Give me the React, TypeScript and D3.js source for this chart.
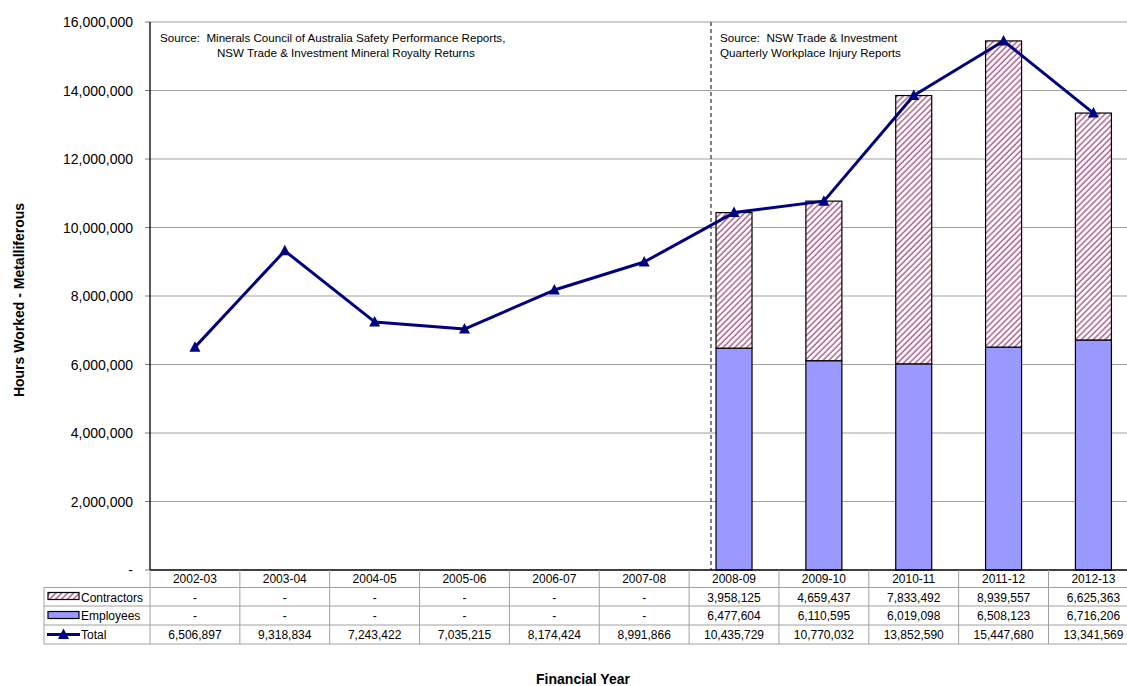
import React from "react";
import * as d3 from "d3";

const categories = ["2002-03","2003-04","2004-05","2005-06","2006-07","2007-08","2008-09","2009-10","2010-11","2011-12","2012-13"];
const contractors: (number | null)[] = [null,null,null,null,null,null,3958125,4659437,7833492,8939557,6625363];
const employees: (number | null)[] = [null,null,null,null,null,null,6477604,6110595,6019098,6508123,6716206];
const totals = [6506897,9318834,7243422,7035215,8174424,8991866,10435729,10770032,13852590,15447680,13341569];
const yTicks = [0,2000000,4000000,6000000,8000000,10000000,12000000,14000000,16000000];

const W = 1127, H = 686;
const left = 150, top = 22, bottom = 570;
const band = 89.85;
const FONT = "Arial, 'Liberation Sans', sans-serif";

export default function App() {
  const x = d3.scaleBand<string>().domain(categories).range([left, left + band * categories.length]).padding(0);
  const y = d3.scaleLinear().domain([0, 16000000]).range([bottom, top]);
  const fmt = d3.format(",");
  const cx = (c: string) => (x(c) as number) + x.bandwidth() / 2;
  const barW = 36;
  const line = d3.line<number>().x((_, i) => cx(categories[i])).y(d => y(d));
  const rowY = [570, 587.5, 606, 625, 644];
  const right = left + band * categories.length;
  const tri = (px: number, py: number) => `M${px},${py - 6}L${px + 5.5},${py + 4.5}L${px - 5.5},${py + 4.5}Z`;
  const dashX = 711;
  const cell = (v: number | null) => (v == null ? "-" : fmt(v));
  const rows = [
    { name: "Contractors", vals: contractors.map(cell) },
    { name: "Employees", vals: employees.map(cell) },
    { name: "Total", vals: totals.map(v => fmt(v)) },
  ];
  const pre = { whiteSpace: "pre" as const };
  return (
    <svg width={W} height={H} style={{ position: "absolute", left: 0, top: 0, background: "#fff" }} fontFamily={FONT}>
      <defs>
        <pattern id="hatch" width="4.2" height="4.2" patternUnits="userSpaceOnUse" patternTransform="rotate(45)">
          <rect width="4.2" height="4.2" fill="#fff" />
          <line x1="1" y1="0" x2="1" y2="4.2" stroke="#b0628f" strokeWidth="1.5" />
        </pattern>
      </defs>
      <rect width={W} height={H} fill="#fff" />
      {yTicks.filter(t => t > 0).map(t => (
        <line key={t} x1={left} x2={right} y1={y(t)} y2={y(t)} stroke="#a0a0a0" strokeWidth={1} />
      ))}
      {yTicks.map(t => (
        <g key={"t" + t}>
          <line x1={left - 5} x2={left} y1={y(t)} y2={y(t)} stroke="#808080" />
          <text x={133} y={y(t) + 5} textAnchor="end" fontSize={14} fill="#000">{t === 0 ? "-" : fmt(t)}</text>
        </g>
      ))}
      <line x1={dashX} x2={dashX} y1={top} y2={bottom} stroke="#404040" strokeWidth={1.3} strokeDasharray="4,3" />
      {categories.map((c, i) => {
        const e = employees[i], k = contractors[i];
        if (e == null || k == null) return null;
        const bx = cx(c) - barW / 2;
        return (
          <g key={c}>
            <rect x={bx} y={y(e)} width={barW} height={y(0) - y(e)} fill="#9999ff" stroke="#000" strokeWidth={1.2} />
            <rect x={bx} y={y(e + k)} width={barW} height={y(e) - y(e + k)} fill="url(#hatch)" stroke="#000" strokeWidth={1.2} />
          </g>
        );
      })}
      <path d={line(totals) || ""} fill="none" stroke="#000080" strokeWidth={3} strokeLinejoin="round" />
      {totals.map((v, i) => (
        <path key={i} d={tri(cx(categories[i]), y(v))} fill="#000080" />
      ))}
      <line x1={left} x2={left} y1={top} y2={bottom} stroke="#000" strokeWidth={1.3} />
      <line x1={left} x2={right} y1={bottom} y2={bottom} stroke="#000" strokeWidth={1.3} />
      <text x={160} y={42} fontSize={11.6} style={pre}>{"Source:  Minerals Council of Australia Safety Performance Reports,"}</text>
      <text x={217} y={57} fontSize={11.6} style={pre}>{"NSW Trade & Investment Mineral Royalty Returns"}</text>
      <text x={720} y={42} fontSize={11.6} style={pre}>{"Source:  NSW Trade & Investment"}</text>
      <text x={720} y={57} fontSize={11.6} style={pre}>{"Quarterly Workplace Injury Reports"}</text>
      {rowY.slice(1).map(ry => (
        <line key={"r" + ry} x1={44} x2={right} y1={ry} y2={ry} stroke="#a0a0a0" />
      ))}
      <line x1={44} x2={44} y1={rowY[1]} y2={rowY[4]} stroke="#a0a0a0" />
      {categories.map(c => (
        <line key={"v" + c} x1={(x(c) as number)} x2={(x(c) as number)} y1={rowY[0]} y2={rowY[4]} stroke="#a0a0a0" />
      ))}
      <line x1={right} x2={right} y1={rowY[0]} y2={rowY[4]} stroke="#a0a0a0" />
      {categories.map(c => (
        <text key={"h" + c} x={cx(c)} y={rowY[0] + 13} textAnchor="middle" fontSize={12}>{c}</text>
      ))}
      {rows.map((r, ri) => (
        <g key={r.name}>
          {r.vals.map((v, i) => (
            <text key={i} x={cx(categories[i])} y={rowY[ri + 1] + 14} textAnchor="middle" fontSize={12}>{v}</text>
          ))}
          <text x={81} y={rowY[ri + 1] + 14} fontSize={12}>{r.name}</text>
        </g>
      ))}
      <rect x={48} y={592.5} width={31} height={7} fill="url(#hatch)" stroke="#000" strokeWidth={1.2} />
      <rect x={48} y={611.5} width={31} height={7} fill="#9999ff" stroke="#000" strokeWidth={1.2} />
      <line x1={47} x2={80} y1={634.5} y2={634.5} stroke="#000080" strokeWidth={3} />
      <path d={tri(63.5, 634.5)} fill="#000080" />
      <text transform="translate(24,300) rotate(-90)" textAnchor="middle" fontSize={14} fontWeight="bold">Hours Worked - Metalliferous</text>
      <text x={583} y={684} textAnchor="middle" fontSize={14} fontWeight="bold">Financial Year</text>
    </svg>
  );
}
